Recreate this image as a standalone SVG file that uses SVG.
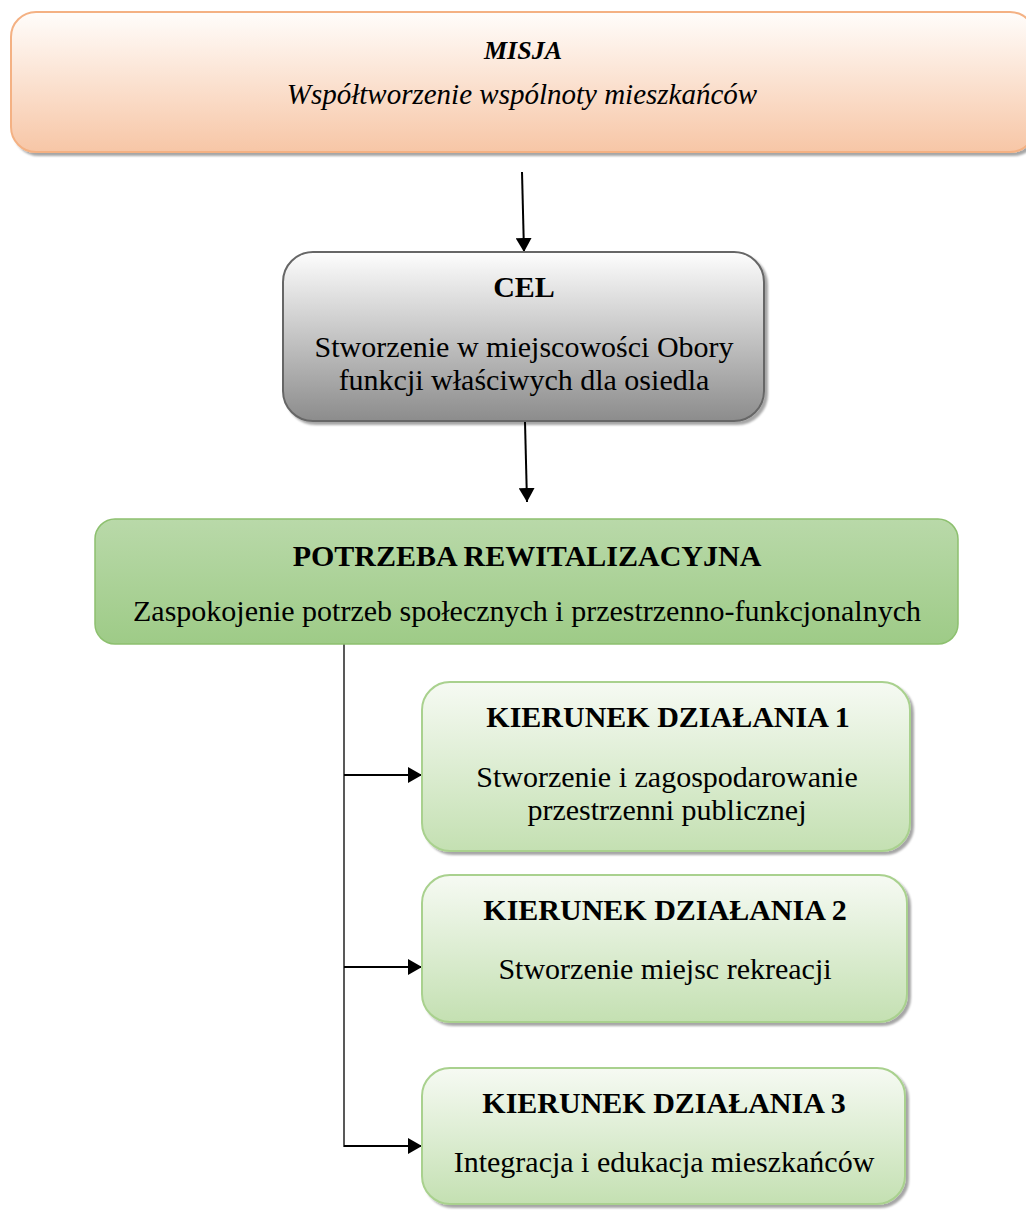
<svg xmlns="http://www.w3.org/2000/svg" width="1026" height="1214" viewBox="0 0 1026 1214">
<defs>
<linearGradient id="gPeach" x1="0" y1="0" x2="0" y2="1"><stop offset="0" stop-color="#fffdfb"/><stop offset="1" stop-color="#f7c6a6"/></linearGradient>
<linearGradient id="gGray" x1="0" y1="0" x2="0" y2="1"><stop offset="0" stop-color="#fdfdfd"/><stop offset="1" stop-color="#8c8c8c"/></linearGradient>
<linearGradient id="gGreen" x1="0" y1="0" x2="0" y2="1"><stop offset="0" stop-color="#b9d9a9"/><stop offset="1" stop-color="#9ecb87"/></linearGradient>
<linearGradient id="gLight" x1="0" y1="0" x2="0" y2="1"><stop offset="0" stop-color="#f6faf3"/><stop offset="1" stop-color="#c4e0b2"/></linearGradient>
<filter id="sh" x="-5%" y="-5%" width="110%" height="120%"><feDropShadow dx="3" dy="3" stdDeviation="1" flood-color="#000" flood-opacity="0.35"/></filter>
<marker id="ah" viewBox="0 0 14 16" refX="14" refY="8" markerWidth="14" markerHeight="16" markerUnits="userSpaceOnUse" orient="auto"><path d="M0,0 L14,8 L0,16 Z" fill="#000"/></marker>
</defs>
<style>
text{font-family:"Liberation Serif","Times New Roman",serif;font-size:30px;fill:#000;text-anchor:middle}
.b{font-weight:bold}
.i{font-style:italic}
.con{stroke:#000;stroke-width:2;fill:none}
.vl{stroke:#222;stroke-width:1.5;fill:none}
</style>
<g id="connectors">
<line class="con" x1="522" y1="172" x2="524" y2="252" marker-end="url(#ah)"/>
<line class="con" x1="525" y1="422" x2="527" y2="502" marker-end="url(#ah)"/>
<line class="vl" x1="344" y1="644" x2="344" y2="1147"/>
<line class="con" x1="344" y1="775" x2="422" y2="775" stroke-width="2.5" marker-end="url(#ah)"/>
<line class="con" x1="344" y1="967" x2="422" y2="967" stroke-width="2.5" marker-end="url(#ah)"/>
<line class="con" x1="344" y1="1146" x2="422" y2="1146" stroke-width="2.5" marker-end="url(#ah)"/>
</g>
<g id="misja">
<rect x="11" y="12" width="1024" height="140" rx="25" fill="url(#gPeach)" stroke="#f4b183" stroke-width="2" filter="url(#sh)"/>
<text class="b i" x="523" y="59" style="font-size:26px">MISJA</text>
<text class="i" x="522" y="104" style="font-size:29px">Współtworzenie wspólnoty mieszkańców</text>
</g>
<g id="cel">
<rect x="283" y="252" width="481" height="169" rx="30" fill="url(#gGray)" stroke="#666" stroke-width="2" filter="url(#sh)"/>
<text class="b" x="524" y="297">CEL</text>
<text x="524" y="357">Stworzenie w miejscowości Obory</text>
<text x="524" y="390">funkcji właściwych dla osiedla</text>
</g>
<g id="potrzeba">
<rect x="95" y="519" width="863" height="125" rx="20" fill="url(#gGreen)" stroke="#8dc06f" stroke-width="1.5"/>
<text class="b" x="527" y="566">POTRZEBA REWITALIZACYJNA</text>
<text x="527" y="621">Zaspokojenie potrzeb społecznych i przestrzenno-funkcjonalnych</text>
</g>
<g id="kd1">
<rect x="422" y="682" width="488" height="169" rx="28" fill="url(#gLight)" stroke="#a9d18e" stroke-width="2" filter="url(#sh)"/>
<text class="b" x="668" y="727">KIERUNEK DZIAŁANIA 1</text>
<text x="667" y="787">Stworzenie i zagospodarowanie</text>
<text x="667" y="820">przestrzenni publicznej</text>
</g>
<g id="kd2">
<rect x="422" y="875" width="485" height="147" rx="28" fill="url(#gLight)" stroke="#a9d18e" stroke-width="2" filter="url(#sh)"/>
<text class="b" x="665" y="920">KIERUNEK DZIAŁANIA 2</text>
<text x="665" y="979">Stworzenie miejsc rekreacji</text>
</g>
<g id="kd3">
<rect x="422" y="1068" width="483" height="136" rx="28" fill="url(#gLight)" stroke="#a9d18e" stroke-width="2" filter="url(#sh)"/>
<text class="b" x="664" y="1113">KIERUNEK DZIAŁANIA 3</text>
<text x="664" y="1172">Integracja i edukacja mieszkańców</text>
</g>
</svg>
